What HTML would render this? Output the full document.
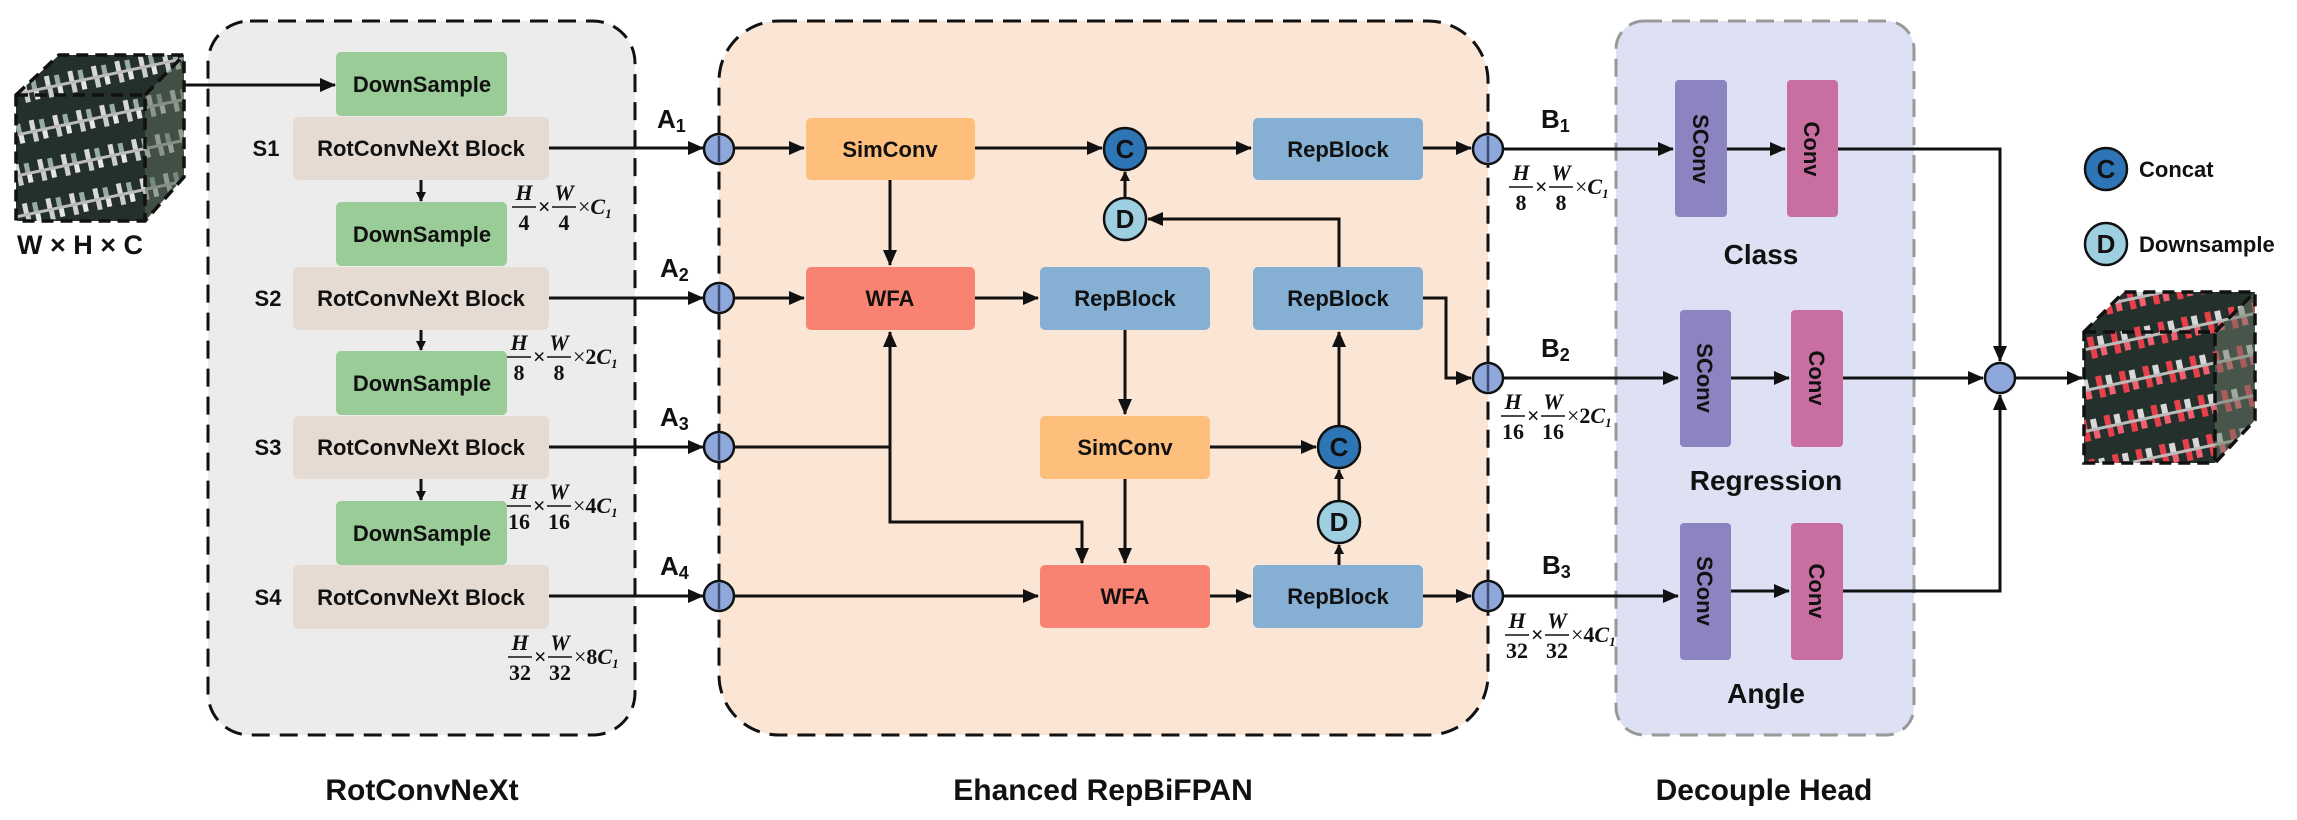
<!DOCTYPE html>
<html><head><meta charset="utf-8"><style>
html,body{margin:0;padding:0;background:#fff;}
svg{display:block;}
.t{font-family:"Liberation Sans",sans-serif;font-weight:bold;fill:#111;}
.f{font-family:"Liberation Serif",serif;font-weight:bold;font-style:italic;fill:#111;}
.fn{font-family:"Liberation Serif",serif;font-weight:bold;fill:#111;}
</style></head><body>
<svg width="2297" height="820" viewBox="0 0 2297 820" xmlns="http://www.w3.org/2000/svg">
<defs>
<marker id="ar" markerWidth="10" markerHeight="10" refX="9" refY="5" orient="auto" markerUnits="userSpaceOnUse" viewBox="0 0 10 10">
<path d="M0,0 L10,5 L0,10 z" fill="#111"/></marker>
<marker id="ar2" markerWidth="16" markerHeight="14" refX="15" refY="7" orient="auto" markerUnits="userSpaceOnUse" viewBox="0 0 16 14">
<path d="M0,0 L16,7 L0,14 z" fill="#111"/></marker>
<pattern id="boats" width="24" height="40" patternUnits="userSpaceOnUse" patternTransform="rotate(-12)">
<rect width="24" height="40" fill="#24302b"/>
<rect x="0" y="14" width="24" height="3" fill="#bbb"/>
<rect x="3" y="4" width="5" height="10" fill="#d8d8d8"/>
<rect x="13" y="5" width="5" height="9" fill="#9aa"/>
<rect x="4" y="17" width="5" height="9" fill="#ccc"/>
<rect x="14" y="17" width="5" height="8" fill="#e6e6e6"/>
</pattern>
<pattern id="boats2" width="24" height="40" patternUnits="userSpaceOnUse" patternTransform="rotate(-12)">
<rect width="24" height="40" fill="#24302b"/>
<rect x="0" y="14" width="24" height="3" fill="#bbb"/>
<rect x="3" y="4" width="6" height="10" fill="#e8404a"/>
<rect x="13" y="5" width="6" height="9" fill="#d8d8d8"/>
<rect x="4" y="17" width="6" height="9" fill="#e8404a"/>
<rect x="14" y="17" width="6" height="8" fill="#f06070"/>
</pattern>
</defs>

<!-- Input cube -->
<g>
<polygon points="16,95 59,55 184,55 184,177 145,221 16,221" fill="url(#boats)"/>
<polygon points="145,95 184,55 184,177 145,221" fill="#5a6a5a" opacity="0.55"/>
<g fill="none" stroke="#111" stroke-width="3.5" stroke-dasharray="12,7">
<polygon points="16,95 59,55 184,55 184,177 145,221 16,221"/>
<polyline points="16,95 145,95 145,221"/><line x1="145" y1="95" x2="184" y2="55"/>
</g>
<text x="80" y="254" text-anchor="middle" font-family="Liberation Sans,sans-serif" font-size="27" fill="#111" font-weight="bold">W × H × C</text>
</g>

<!-- Backbone box -->
<rect x="208" y="21" width="427" height="714" rx="42" fill="#ececec" stroke="#111" stroke-width="3" stroke-dasharray="18,10"/>
<!-- Neck box -->
<rect x="719" y="21" width="769" height="714" rx="60" fill="#fbe5d5" stroke="#111" stroke-width="3" stroke-dasharray="18,10"/>
<!-- Head box -->
<rect x="1616" y="21" width="298" height="714" rx="28" fill="#dde1f3" stroke="#999" stroke-width="3" stroke-dasharray="18,10"/>

<!-- arrow from cube -->
<line x1="184" y1="85" x2="335" y2="85" stroke="#111" stroke-width="3" marker-end="url(#ar2)"/>

<!-- Backbone blocks -->
<g class="t" font-size="22">
<g fill="#9acc98">
<rect x="336" y="52" width="171" height="64" rx="5"/>
<rect x="336" y="202" width="171" height="64" rx="5"/>
<rect x="336" y="351" width="171" height="64" rx="5"/>
<rect x="336" y="501" width="171" height="64" rx="5"/>
</g>
<g fill="#e6dbd3">
<rect x="293" y="117" width="256" height="63" rx="6"/>
<rect x="293" y="267" width="256" height="63" rx="6"/>
<rect x="293" y="416" width="256" height="63" rx="6"/>
<rect x="293" y="565" width="256" height="64" rx="6"/>
</g>
</g>
<g font-family="Liberation Sans,sans-serif" font-weight="bold" font-size="22" fill="#111" text-anchor="middle">
<text x="422" y="92">DownSample</text>
<text x="422" y="242">DownSample</text>
<text x="422" y="391">DownSample</text>
<text x="422" y="541">DownSample</text>
<text x="421" y="156">RotConvNeXt Block</text>
<text x="421" y="306">RotConvNeXt Block</text>
<text x="421" y="455">RotConvNeXt Block</text>
<text x="421" y="605">RotConvNeXt Block</text>
<text x="266" y="156">S1</text>
<text x="268" y="306">S2</text>
<text x="268" y="455">S3</text>
<text x="268" y="605">S4</text>
</g>
<g stroke="#111" stroke-width="3">
<line x1="421" y1="180" x2="421" y2="201" marker-end="url(#ar)"/>
<line x1="421" y1="330" x2="421" y2="350" marker-end="url(#ar)"/>
<line x1="421" y1="479" x2="421" y2="500" marker-end="url(#ar)"/>
</g>

<!-- backbone fractions -->
<g font-size="22">
<g transform="translate(512,180)">
<text class="f" x="12" y="20" text-anchor="middle">H</text><line x1="0" y1="27" x2="24" y2="27" stroke="#111" stroke-width="1.5"/><text class="fn" x="12" y="50" text-anchor="middle">4</text>
<text class="fn" x="26" y="34" font-weight="normal">×</text>
<text class="f" x="52" y="20" text-anchor="middle">W</text><line x1="40" y1="27" x2="64" y2="27" stroke="#111" stroke-width="1.5"/><text class="fn" x="52" y="50" text-anchor="middle">4</text>
<text class="f" x="66" y="34"><tspan font-style="normal" font-weight="normal">×</tspan>C<tspan font-size="13" dy="4">1</tspan></text>
</g>
<g transform="translate(507,330)">
<text class="f" x="12" y="20" text-anchor="middle">H</text><line x1="0" y1="27" x2="24" y2="27" stroke="#111" stroke-width="1.5"/><text class="fn" x="12" y="50" text-anchor="middle">8</text>
<text class="fn" x="26" y="34" font-weight="normal">×</text>
<text class="f" x="52" y="20" text-anchor="middle">W</text><line x1="40" y1="27" x2="64" y2="27" stroke="#111" stroke-width="1.5"/><text class="fn" x="52" y="50" text-anchor="middle">8</text>
<text class="f" x="66" y="34"><tspan font-style="normal" font-weight="normal">×</tspan><tspan font-style="normal">2</tspan>C<tspan font-size="13" dy="4">1</tspan></text>
</g>
<g transform="translate(507,479)">
<text class="f" x="12" y="20" text-anchor="middle">H</text><line x1="0" y1="27" x2="24" y2="27" stroke="#111" stroke-width="1.5"/><text class="fn" x="12" y="50" text-anchor="middle">16</text>
<text class="fn" x="26" y="34" font-weight="normal">×</text>
<text class="f" x="52" y="20" text-anchor="middle">W</text><line x1="40" y1="27" x2="64" y2="27" stroke="#111" stroke-width="1.5"/><text class="fn" x="52" y="50" text-anchor="middle">16</text>
<text class="f" x="66" y="34"><tspan font-style="normal" font-weight="normal">×</tspan><tspan font-style="normal">4</tspan>C<tspan font-size="13" dy="4">1</tspan></text>
</g>
<g transform="translate(508,630)">
<text class="f" x="12" y="20" text-anchor="middle">H</text><line x1="0" y1="27" x2="24" y2="27" stroke="#111" stroke-width="1.5"/><text class="fn" x="12" y="50" text-anchor="middle">32</text>
<text class="fn" x="26" y="34" font-weight="normal">×</text>
<text class="f" x="52" y="20" text-anchor="middle">W</text><line x1="40" y1="27" x2="64" y2="27" stroke="#111" stroke-width="1.5"/><text class="fn" x="52" y="50" text-anchor="middle">32</text>
<text class="f" x="66" y="34"><tspan font-style="normal" font-weight="normal">×</tspan><tspan font-style="normal">8</tspan>C<tspan font-size="13" dy="4">1</tspan></text>
</g>
</g>

<!-- backbone outputs -->
<g stroke="#111" stroke-width="3">
<line x1="549" y1="148" x2="703" y2="148" marker-end="url(#ar2)"/>
<line x1="549" y1="298" x2="703" y2="298" marker-end="url(#ar2)"/>
<line x1="549" y1="447" x2="703" y2="447" marker-end="url(#ar2)"/>
<line x1="549" y1="596" x2="703" y2="596" marker-end="url(#ar2)"/>
</g>
<g font-family="Liberation Sans,sans-serif" font-weight="bold" font-size="26" fill="#111">
<text x="657" y="128">A<tspan font-size="18" dy="4">1</tspan></text>
<text x="660" y="277">A<tspan font-size="18" dy="4">2</tspan></text>
<text x="660" y="426">A<tspan font-size="18" dy="4">3</tspan></text>
<text x="660" y="575">A<tspan font-size="18" dy="4">4</tspan></text>
</g>

<!-- Neck blocks -->
<g>
<rect x="806" y="118" width="169" height="62" rx="5" fill="#fdbf7b"/>
<rect x="806" y="267" width="169" height="63" rx="5" fill="#f98373"/>
<rect x="1040" y="267" width="170" height="63" rx="5" fill="#85b0d4"/>
<rect x="1253" y="118" width="170" height="62" rx="5" fill="#85b0d4"/>
<rect x="1253" y="267" width="170" height="63" rx="5" fill="#85b0d4"/>
<rect x="1040" y="416" width="170" height="63" rx="5" fill="#fdbf7b"/>
<rect x="1040" y="565" width="170" height="63" rx="5" fill="#f98373"/>
<rect x="1253" y="565" width="170" height="63" rx="5" fill="#85b0d4"/>
</g>
<g font-family="Liberation Sans,sans-serif" font-weight="bold" font-size="22" fill="#111" text-anchor="middle">
<text x="890" y="157">SimConv</text>
<text x="890" y="306">WFA</text>
<text x="1125" y="306">RepBlock</text>
<text x="1338" y="157">RepBlock</text>
<text x="1338" y="306">RepBlock</text>
<text x="1125" y="455">SimConv</text>
<text x="1125" y="604">WFA</text>
<text x="1338" y="604">RepBlock</text>
</g>

<!-- neck connectors -->
<g stroke="#111" stroke-width="3" fill="none">
<line x1="734" y1="148" x2="804" y2="148" marker-end="url(#ar2)"/>
<line x1="734" y1="298" x2="804" y2="298" marker-end="url(#ar2)"/>
<line x1="734" y1="596" x2="1038" y2="596" marker-end="url(#ar2)"/>
<line x1="734" y1="447" x2="890" y2="447"/>
<line x1="890" y1="447" x2="890" y2="332" marker-end="url(#ar2)"/>
<polyline points="890,447 890,522 1082,522 1082,563" marker-end="url(#ar2)"/>
<line x1="890" y1="180" x2="890" y2="265" marker-end="url(#ar2)"/>
<line x1="975" y1="148" x2="1102" y2="148" marker-end="url(#ar2)"/>
<line x1="1146" y1="148" x2="1251" y2="148" marker-end="url(#ar2)"/>
<line x1="975" y1="298" x2="1038" y2="298" marker-end="url(#ar2)"/>
<line x1="1125" y1="330" x2="1125" y2="414" marker-end="url(#ar2)"/>
<line x1="1125" y1="479" x2="1125" y2="563" marker-end="url(#ar2)"/>
<line x1="1210" y1="447" x2="1316" y2="447" marker-end="url(#ar2)"/>
<line x1="1210" y1="596" x2="1251" y2="596" marker-end="url(#ar2)"/>
<line x1="1339" y1="565" x2="1339" y2="545" marker-end="url(#ar)"/>
<line x1="1339" y1="501" x2="1339" y2="470" marker-end="url(#ar)"/>
<line x1="1339" y1="426" x2="1339" y2="332" marker-end="url(#ar2)"/>
<polyline points="1339,267 1339,219 1148,219" marker-end="url(#ar2)"/>
<line x1="1125" y1="198" x2="1125" y2="172" marker-end="url(#ar)"/>
<line x1="1423" y1="148" x2="1471" y2="148" marker-end="url(#ar2)"/>
<polyline points="1423,298 1446,298 1446,378 1471,378" marker-end="url(#ar2)"/>
<line x1="1423" y1="596" x2="1471" y2="596" marker-end="url(#ar2)"/>
</g>
<!-- C / D circles -->
<g stroke="#111" stroke-width="2.5">
<circle cx="1125" cy="149" r="21" fill="#2e75b6"/>
<circle cx="1125" cy="219" r="21" fill="#9dcfe0"/>
<circle cx="1339" cy="447" r="21" fill="#2e75b6"/>
<circle cx="1339" cy="522" r="21" fill="#9dcfe0"/>
</g>
<g font-family="Liberation Sans,sans-serif" font-weight="bold" font-size="26" fill="#111" text-anchor="middle">
<text x="1125" y="158">C</text>
<text x="1125" y="228">D</text>
<text x="1339" y="456">C</text>
<text x="1339" y="531">D</text>
</g>

<!-- junction circles -->
<g stroke="#111" stroke-width="2.5" fill="#8fa8dc">
<circle cx="719" cy="149" r="15"/><circle cx="719" cy="298" r="15"/><circle cx="719" cy="447" r="15"/><circle cx="719" cy="596" r="15"/>
<circle cx="1488" cy="149" r="15"/><circle cx="1488" cy="378" r="15"/><circle cx="1488" cy="596" r="15"/>
</g>
<g stroke="#3a4a70" stroke-width="2.5">
<line x1="719" y1="136" x2="719" y2="162"/><line x1="719" y1="285" x2="719" y2="311"/><line x1="719" y1="434" x2="719" y2="460"/><line x1="719" y1="583" x2="719" y2="609"/>
<line x1="1488" y1="136" x2="1488" y2="162"/><line x1="1488" y1="365" x2="1488" y2="391"/><line x1="1488" y1="583" x2="1488" y2="609"/>
</g>

<!-- head inputs -->
<g stroke="#111" stroke-width="3">
<line x1="1503" y1="149" x2="1673" y2="149" marker-end="url(#ar2)"/>
<line x1="1503" y1="378" x2="1678" y2="378" marker-end="url(#ar2)"/>
<line x1="1503" y1="596" x2="1678" y2="596" marker-end="url(#ar2)"/>
</g>
<g font-family="Liberation Sans,sans-serif" font-weight="bold" font-size="26" fill="#111">
<text x="1541" y="128">B<tspan font-size="18" dy="4">1</tspan></text>
<text x="1541" y="357">B<tspan font-size="18" dy="4">2</tspan></text>
<text x="1542" y="574">B<tspan font-size="18" dy="4">3</tspan></text>
</g>
<g font-size="22">
<g transform="translate(1509,160)">
<text class="f" x="12" y="20" text-anchor="middle">H</text><line x1="0" y1="27" x2="24" y2="27" stroke="#111" stroke-width="1.5"/><text class="fn" x="12" y="50" text-anchor="middle">8</text>
<text class="fn" x="26" y="34" font-weight="normal">×</text>
<text class="f" x="52" y="20" text-anchor="middle">W</text><line x1="40" y1="27" x2="64" y2="27" stroke="#111" stroke-width="1.5"/><text class="fn" x="52" y="50" text-anchor="middle">8</text>
<text class="f" x="66" y="34"><tspan font-style="normal" font-weight="normal">×</tspan>C<tspan font-size="13" dy="4">1</tspan></text>
</g>
<g transform="translate(1501,389)">
<text class="f" x="12" y="20" text-anchor="middle">H</text><line x1="0" y1="27" x2="24" y2="27" stroke="#111" stroke-width="1.5"/><text class="fn" x="12" y="50" text-anchor="middle">16</text>
<text class="fn" x="26" y="34" font-weight="normal">×</text>
<text class="f" x="52" y="20" text-anchor="middle">W</text><line x1="40" y1="27" x2="64" y2="27" stroke="#111" stroke-width="1.5"/><text class="fn" x="52" y="50" text-anchor="middle">16</text>
<text class="f" x="66" y="34"><tspan font-style="normal" font-weight="normal">×</tspan><tspan font-style="normal">2</tspan>C<tspan font-size="13" dy="4">1</tspan></text>
</g>
<g transform="translate(1505,608)">
<text class="f" x="12" y="20" text-anchor="middle">H</text><line x1="0" y1="27" x2="24" y2="27" stroke="#111" stroke-width="1.5"/><text class="fn" x="12" y="50" text-anchor="middle">32</text>
<text class="fn" x="26" y="34" font-weight="normal">×</text>
<text class="f" x="52" y="20" text-anchor="middle">W</text><line x1="40" y1="27" x2="64" y2="27" stroke="#111" stroke-width="1.5"/><text class="fn" x="52" y="50" text-anchor="middle">32</text>
<text class="f" x="66" y="34"><tspan font-style="normal" font-weight="normal">×</tspan><tspan font-style="normal">4</tspan>C<tspan font-size="13" dy="4">1</tspan></text>
</g>
</g>

<!-- head blocks -->
<g>
<rect x="1675" y="80" width="52" height="137" rx="4" fill="#8b84c0"/>
<rect x="1787" y="80" width="51" height="137" rx="4" fill="#c96ea0"/>
<rect x="1680" y="310" width="51" height="137" rx="4" fill="#8b84c0"/>
<rect x="1791" y="310" width="52" height="137" rx="4" fill="#c96ea0"/>
<rect x="1680" y="523" width="51" height="137" rx="4" fill="#8b84c0"/>
<rect x="1791" y="523" width="52" height="137" rx="4" fill="#c96ea0"/>
</g>
<g font-family="Liberation Sans,sans-serif" font-weight="bold" font-size="22" fill="#111" text-anchor="middle">
<text transform="translate(1701,149) rotate(90)" y="8">SConv</text>
<text transform="translate(1812,149) rotate(90)" y="8">Conv</text>
<text transform="translate(1705,378) rotate(90)" y="8">SConv</text>
<text transform="translate(1817,378) rotate(90)" y="8">Conv</text>
<text transform="translate(1705,591) rotate(90)" y="8">SConv</text>
<text transform="translate(1817,591) rotate(90)" y="8">Conv</text>
</g>
<g stroke="#111" stroke-width="3" fill="none">
<line x1="1727" y1="149" x2="1785" y2="149" marker-end="url(#ar2)"/>
<line x1="1731" y1="378" x2="1789" y2="378" marker-end="url(#ar2)"/>
<line x1="1731" y1="591" x2="1789" y2="591" marker-end="url(#ar2)"/>
<polyline points="1838,149 2000,149 2000,361" marker-end="url(#ar2)"/>
<line x1="1843" y1="378" x2="1983" y2="378" marker-end="url(#ar2)"/>
<polyline points="1843,591 2000,591 2000,395" marker-end="url(#ar2)"/>
<line x1="2015" y1="378" x2="2082" y2="378" marker-end="url(#ar2)"/>
</g>
<circle cx="2000" cy="378" r="15" fill="#8fa8dc" stroke="#111" stroke-width="2.5"/>
<g font-family="Liberation Sans,sans-serif" font-weight="bold" font-size="28" fill="#111" text-anchor="middle">
<text x="1761" y="264">Class</text>
<text x="1766" y="490">Regression</text>
<text x="1766" y="703">Angle</text>
</g>

<!-- output cube -->
<g>
<polygon points="2084,332 2124,292 2255,292 2255,420 2215,463 2084,463" fill="url(#boats2)"/>
<polygon points="2215,332 2255,292 2255,420 2215,463" fill="#6a7a6a" opacity="0.5"/>
<g fill="none" stroke="#111" stroke-width="3.5" stroke-dasharray="12,7">
<polygon points="2084,332 2124,292 2255,292 2255,420 2215,463 2084,463"/>
<polyline points="2084,332 2215,332 2215,463"/><line x1="2215" y1="332" x2="2255" y2="292"/>
</g>
</g>

<!-- legend -->
<circle cx="2106" cy="169" r="21" fill="#2e75b6" stroke="#111" stroke-width="2.5"/>
<circle cx="2106" cy="244" r="21" fill="#9dcfe0" stroke="#111" stroke-width="2.5"/>
<g font-family="Liberation Sans,sans-serif" font-weight="bold" fill="#111">
<text x="2106" y="178" font-size="26" text-anchor="middle">C</text>
<text x="2106" y="253" font-size="26" text-anchor="middle">D</text>
<text x="2139" y="177" font-size="22">Concat</text>
<text x="2139" y="252" font-size="22">Downsample</text>
</g>

<!-- titles -->
<g font-family="Liberation Sans,sans-serif" font-weight="bold" font-size="30" fill="#111" text-anchor="middle">
<text x="422" y="800">RotConvNeXt</text>
<text x="1103" y="800">Ehanced RepBiFPAN</text>
<text x="1764" y="800">Decouple Head</text>
</g>
</svg>
</body></html>
